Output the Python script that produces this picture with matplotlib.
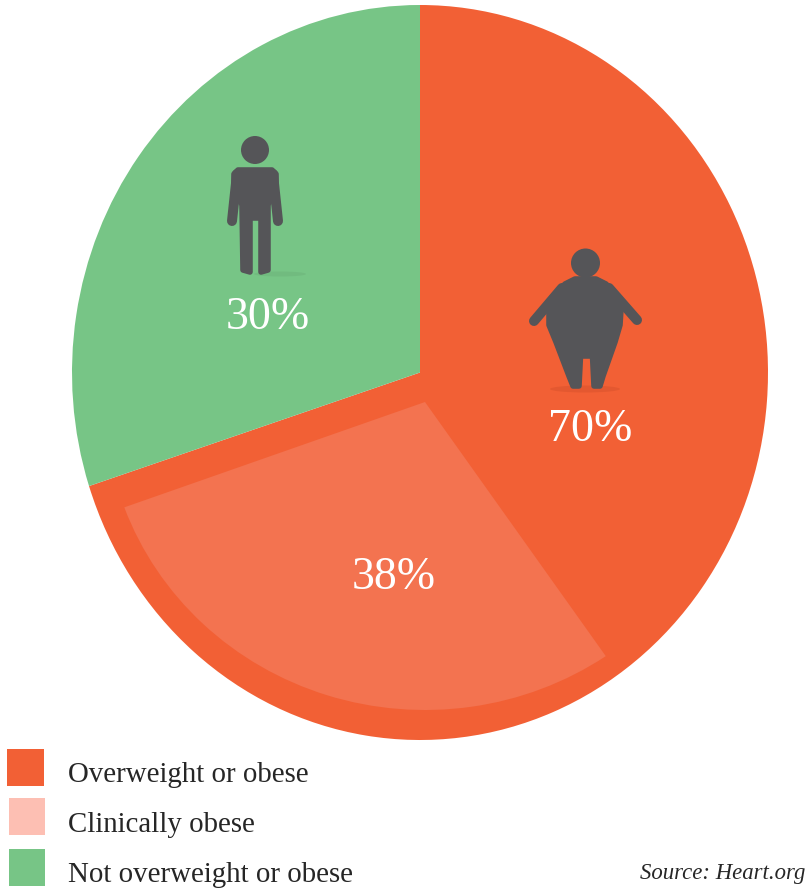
import matplotlib
matplotlib.use('Agg')
import matplotlib.pyplot as plt
from matplotlib.patches import Ellipse, Polygon, Rectangle

W, H = 805, 889

# values
main_shares = [70, 30]
main_colors = ['#F26035', '#77C586']
# the light slice is drawn narrower in the picture than its 38% label
inner_shares = [29, 71]
inner_color = '#F37350'
percent_labels = ['70%', '30%', '38%']
legend_labels = ['Overweight or obese', 'Clinically obese', 'Not overweight or obese']
legend_colors = ['#F26035', '#FDBFB3', '#77C586']
source_text = 'Source: Heart.org'

icon_color = '#555558'
serif = 'Liberation Serif'


def pie_axes(fig, cx, cy, rx, ry):
    # axes whose -1..1 box is the ellipse centred on pixel cx, cy
    a = fig.add_axes([(cx - rx) / W, 1 - (cy + ry) / H, 2 * rx / W, 2 * ry / H])
    a.patch.set_visible(False)
    return a


fig = plt.figure(figsize=(W / 100, H / 100), dpi=100, facecolor='white')

ax = pie_axes(fig, 420, 372.5, 348, 367.5)
ax.pie(main_shares, colors=main_colors, startangle=90, counterclock=False, radius=1)
ax.set_aspect('auto')
ax.set_xlim(-1, 1)
ax.set_ylim(-1, 1)

ax2 = pie_axes(fig, 425, 402, 320, 308)
ax2.pie(inner_shares, colors=[inner_color, 'none'], startangle=-55.6, counterclock=False, radius=1)
ax2.set_aspect('auto')
ax2.set_xlim(-1, 1)
ax2.set_ylim(-1, 1)

# overlay in pixel coordinates for icons, labels and legend
top = fig.add_axes([0, 0, 1, 1])
top.set_xlim(0, W)
top.set_ylim(H, 0)
top.axis('off')


def blob(pts, lw=4):
    top.add_patch(Polygon(pts, closed=True, fc=icon_color, ec=icon_color, lw=lw, joinstyle='round'))


def limb(x0, y0, x1, y1, width):
    top.plot([x0, x1], [y0, y1], color=icon_color, lw=width * 0.72, solid_capstyle='round')


# thin figure
top.add_patch(Ellipse((280, 274), 52, 5, fc='#6AAF78', ec='none', alpha=0.45))
top.add_patch(Ellipse((255, 150), 28, 28, fc=icon_color, ec='none'))
limb(237, 174, 232, 221, 10)
limb(273, 174, 278, 221, 10)
blob([(238, 170), (272, 170), (276, 174), (276, 188), (268, 205), (268, 270), (261, 272), (261, 218),
      (250, 218), (250, 272), (243, 270), (242, 205), (234, 188), (234, 174)])

# heavy figure
top.add_patch(Ellipse((585, 389), 70, 7, fc='#D9532C', ec='none', alpha=0.55))
top.add_patch(Ellipse((585.5, 263), 29, 29, fc=icon_color, ec='none'))
limb(562, 288, 534, 321, 10)
limb(609, 288, 637, 320, 10)
blob([(575, 279), (596, 279), (606, 284), (616, 295), (621, 309), (620, 325), (615, 342), (603, 376),
      (600, 386), (594, 386), (592.5, 356), (580.5, 356), (579, 386), (573, 386), (569, 376), (556, 342),
      (549, 325), (549, 309), (555, 295), (565, 284)])

# percent labels
label_pos = [(590.5, 430), (268, 318), (394, 578)]
for txt, (x, y) in zip(percent_labels, label_pos):
    top.text(x, y, txt, color='white', fontsize=33, family=serif, ha='center', va='center')

# legend
squares = [(7, 749, 37, 37), (8.5, 798, 36.5, 37), (9, 849, 36, 37)]
text_y = [775, 825, 875]
for lab, col, (x, y, w, h), ty in zip(legend_labels, legend_colors, squares, text_y):
    top.add_patch(Rectangle((x, y), w, h, fc=col, ec='none'))
    top.text(68, ty, lab, color='#262626', fontsize=20.8, family=serif, ha='left', va='center')

top.text(805, 874, source_text, color='#262626', fontsize=16.4, family=serif, style='italic',
         ha='right', va='center')

fig.savefig('out.png', dpi=100)
